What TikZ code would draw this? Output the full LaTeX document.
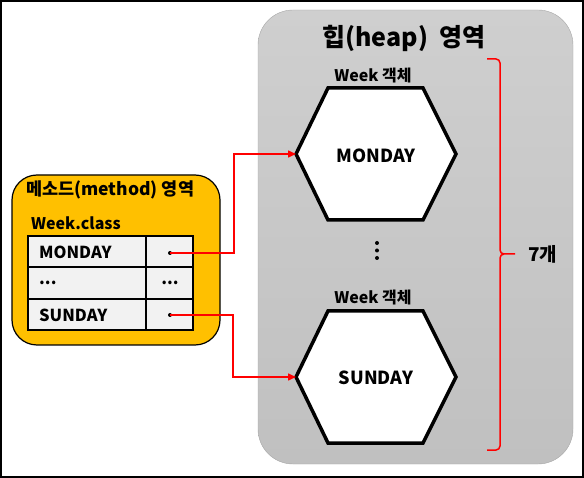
\documentclass[tikz,border=0pt]{standalone}
\usepackage{fontspec}
\setmainfont{Noto Sans CJK KR}
\usetikzlibrary{arrows.meta}
\definecolor{heaptop}{HTML}{CFCFCF}
\definecolor{heapbot}{HTML}{C0C0C0}
\definecolor{heapline}{HTML}{A6A6A6}
\definecolor{methodfill}{HTML}{FFC000}
\definecolor{cellfill}{HTML}{F2F2F2}
\begin{document}
\begin{tikzpicture}[x=1pt, y=-1pt,
        every node/.style={font=\bfseries\fontsize{16.5}{16.5}\selectfont, inner sep=0pt},
        bigtitle/.style={font=\bfseries\fontsize{25}{25}\selectfont},
        midtitle/.style={font=\bfseries\fontsize{17.5}{17.5}\selectfont},
        clstitle/.style={font=\bfseries\fontsize{16}{16}\selectfont},
        objlabel/.style={font=\bfseries\fontsize{16}{16}\selectfont},
        hextext/.style={font=\bfseries\fontsize{18}{18}\selectfont},
        hexa/.style={draw=black, fill=white, line width=3.5pt, line join=miter},
        link/.style={red, line width=1.5pt, -{Triangle[length=8pt, width=7pt]}},
        bracket/.style={red, line width=1.5pt},
        dot/.style={circle, fill=black, minimum size=4pt}]
    \useasboundingbox (0,0) rectangle (584,478);
    \draw[line width=2pt] (1,1) rectangle (583,477);
    % heap area
    \draw[draw=heapline, top color=heaptop, bottom color=heapbot, rounded corners=35pt] (258,10) rectangle (573,464);
    \node[bigtitle] (heap) at (404,38) {힙(heap)\ \ 영역};
    \node[objlabel] (obj1) at (373,76) {Week 객체};
    \draw[hexa] (328,88) -- (423,88) -- (456,154) -- (423,220) -- (328,220) -- (296,154) -- cycle;
    \coordinate (mon) at (296,154);
    \node[hextext] (montext) at (376,156) {MONDAY};
    \fill (377,243) circle (2pt) (377,250.5) circle (2pt) (377,258) circle (2pt);
    \node[objlabel] (obj2) at (373,298) {Week 객체};
    \draw[hexa] (328,311) -- (423,311) -- (456,377) -- (423,443) -- (328,443) -- (296,377) -- cycle;
    \coordinate (sun) at (296,377);
    \node[hextext] (suntext) at (376,378) {SUNDAY};
    % count bracket
    \draw[bracket] (487,59) -- (496,59) to[out=0, in=90] (500,63) -- (500,250) to[out=-90, in=180] (504,254) -- (515,254);
    \draw[bracket] (487,450) -- (496,450) to[out=0, in=-90] (500,446) -- (500,258) to[out=90, in=180] (504,254);
    \node[font=\bfseries\fontsize{19}{19}\selectfont, anchor=west] (count) at (528,254) {7개};
    % method area
    \draw[fill=methodfill, line width=1.2pt, rounded corners=25pt] (12,175) rectangle (220,345);
    \node[midtitle, anchor=west] (method) at (26,190) {메소드(method) 영역};
    \node[clstitle, anchor=west] (cls) at (31,223) {Week.class};
    \draw[fill=cellfill, line width=1.2pt] (28,236) rectangle (193,330);
    \draw[line width=1.2pt] (28,267) -- (193,267) (28,299) -- (193,299) (146,236) -- (146,330);
    \node[anchor=west] (r1) at (39,252) {MONDAY};
    \node[anchor=west] (r2) at (39,283) {...};
    \node[anchor=west] (r3) at (39,315) {SUNDAY};
    \node[dot] (d1) at (170,253) {};
    \node (d2) at (170,283) {...};
    \node[dot] (d3) at (170,315) {};
    \draw[link] (d1.center) -- ++(64,0) |- (mon);
    \draw[link] (d3.center) -- ++(63,0) |- (sun);
\end{tikzpicture}
\end{document}
